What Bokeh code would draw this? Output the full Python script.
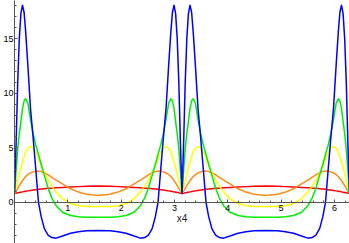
from bokeh.plotting import figure
from bokeh.models import Range1d, FixedTicker
from bokeh.embed import file_html
from bokeh.resources import INLINE

# x positions (radians) over 0 .. 2*pi
x4 = [0, 0.03, 0.06, 0.09, 0.12, 0.15, 0.18, 0.21, 0.25, 0.30, 0.35, 0.40, 0.45, 0.50, 0.56, 0.63, 0.70, 0.78, 0.90, 1.05, 1.20, 1.35, 1.571,
      1.792, 1.942, 2.092, 2.242, 2.362, 2.442, 2.512, 2.582, 2.642, 2.692, 2.742, 2.792, 2.842, 2.892, 2.932, 2.962, 2.992, 3.022, 3.052, 3.082, 3.112, 3.142,
      3.172, 3.202, 3.232, 3.262, 3.292, 3.322, 3.352, 3.392, 3.442, 3.492, 3.542, 3.592, 3.642, 3.702, 3.772, 3.842, 3.922, 4.042, 4.192, 4.342, 4.492, 4.712,
      4.933, 5.083, 5.233, 5.383, 5.503, 5.583, 5.653, 5.723, 5.783, 5.833, 5.883, 5.933, 5.983, 6.033, 6.073, 6.103, 6.133, 6.163, 6.193, 6.223, 6.253, 6.283]

red = [0.82, 0.85, 0.88, 0.91, 0.94, 0.97, 1.0, 1.03, 1.06, 1.1, 1.14, 1.17, 1.2, 1.23, 1.26, 1.29, 1.31, 1.34, 1.37, 1.42, 1.45, 1.48, 1.5,
       1.48, 1.45, 1.42, 1.37, 1.34, 1.31, 1.29, 1.26, 1.23, 1.2, 1.17, 1.14, 1.1, 1.06, 1.03, 1.0, 0.97, 0.94, 0.91, 0.88, 0.85, 0.82,
       0.85, 0.88, 0.91, 0.94, 0.97, 1.0, 1.03, 1.06, 1.1, 1.14, 1.17, 1.2, 1.23, 1.26, 1.29, 1.31, 1.34, 1.37, 1.42, 1.45, 1.48, 1.5,
       1.48, 1.45, 1.42, 1.37, 1.34, 1.31, 1.29, 1.26, 1.23, 1.2, 1.17, 1.14, 1.1, 1.06, 1.03, 1.0, 0.97, 0.94, 0.91, 0.88, 0.85, 0.82]

orange = [0.82, 1.05, 1.3, 1.55, 1.78, 2.0, 2.2, 2.38, 2.55, 2.7, 2.8, 2.86, 2.87, 2.83, 2.72, 2.52, 2.3, 2.05, 1.7, 1.25, 0.95, 0.75, 0.64,
          0.75, 0.95, 1.25, 1.7, 2.05, 2.3, 2.52, 2.72, 2.83, 2.87, 2.86, 2.8, 2.7, 2.55, 2.38, 2.2, 2.0, 1.78, 1.55, 1.3, 1.05, 0.82,
          1.05, 1.3, 1.55, 1.78, 2.0, 2.2, 2.38, 2.55, 2.7, 2.8, 2.86, 2.87, 2.83, 2.72, 2.52, 2.3, 2.05, 1.7, 1.25, 0.95, 0.75, 0.64,
          0.75, 0.95, 1.25, 1.7, 2.05, 2.3, 2.52, 2.72, 2.83, 2.87, 2.86, 2.8, 2.7, 2.55, 2.38, 2.2, 2.0, 1.78, 1.55, 1.3, 1.05, 0.82]

yellow = [0.82, 1.4, 2.0, 2.6, 3.2, 3.7, 4.2, 4.6, 4.95, 5.13, 5.0, 4.6, 4.0, 3.35, 2.7, 2.05, 1.5, 0.95, 0.35, -0.1, -0.3, -0.37, -0.38,
          -0.37, -0.3, -0.1, 0.35, 0.95, 1.5, 2.05, 2.7, 3.35, 4.0, 4.6, 5.0, 5.13, 4.95, 4.6, 4.2, 3.7, 3.2, 2.6, 2.0, 1.4, 0.82,
          1.4, 2.0, 2.6, 3.2, 3.7, 4.2, 4.6, 4.95, 5.13, 5.0, 4.6, 4.0, 3.35, 2.7, 2.05, 1.5, 0.95, 0.35, -0.1, -0.3, -0.37, -0.38,
          -0.37, -0.3, -0.1, 0.35, 0.95, 1.5, 2.05, 2.7, 3.35, 4.0, 4.6, 5.0, 5.13, 4.95, 4.6, 4.2, 3.7, 3.2, 2.6, 2.0, 1.4, 0.82]

green = [0.82, 2.9, 4.9, 6.3, 7.4, 8.6, 9.3, 9.5, 9.1, 7.6, 6.3, 5.25, 4.4, 3.5, 2.5, 1.3, 0.4, -0.3, -0.9, -1.2, -1.32, -1.35, -1.35,
         -1.35, -1.32, -1.2, -0.9, -0.3, 0.4, 1.3, 2.5, 3.5, 4.4, 5.25, 6.3, 7.6, 9.1, 9.5, 9.3, 8.6, 7.4, 6.3, 4.9, 2.9, 0.82,
         2.9, 4.9, 6.3, 7.4, 8.6, 9.3, 9.5, 9.1, 7.6, 6.3, 5.25, 4.4, 3.5, 2.5, 1.3, 0.4, -0.3, -0.9, -1.2, -1.32, -1.35, -1.35,
         -1.35, -1.32, -1.2, -0.9, -0.3, 0.4, 1.3, 2.5, 3.5, 4.4, 5.25, 6.3, 7.6, 9.1, 9.5, 9.3, 8.6, 7.4, 6.3, 4.9, 2.9, 0.82]

blue = [0.82, 5.4, 11.0, 15.0, 17.3, 18.07, 17.4, 15.6, 12.6, 8.6, 5.9, 3.0, 0.0, -1.3, -2.4, -3.0, -3.22, -3.27, -3.08, -2.82, -2.68, -2.6, -2.58,
        -2.6, -2.68, -2.82, -3.08, -3.27, -3.22, -3.0, -2.4, -1.3, 0.0, 3.0, 5.9, 8.6, 12.6, 15.6, 17.4, 18.07, 17.3, 15.0, 11.0, 5.4, 0.82,
        5.4, 11.0, 15.0, 17.3, 18.07, 17.4, 15.6, 12.6, 8.6, 5.9, 3.0, 0.0, -1.3, -2.4, -3.0, -3.22, -3.27, -3.08, -2.82, -2.68, -2.6, -2.58,
        -2.6, -2.68, -2.82, -3.08, -3.27, -3.22, -3.0, -2.4, -1.3, 0.0, 3.0, 5.9, 8.6, 12.6, 15.6, 17.4, 18.07, 17.3, 15.0, 11.0, 5.4, 0.82]

x_ticks = [1, 2, 3, 4, 5, 6]
y_ticks = [0, 5, 10, 15]
x_label = "x4"

series = [(red, "#ff0000"), (orange, "#ff8c1a"), (yellow, "#ffff00"), (green, "#00ee00"), (blue, "#0000ff")]

p = figure(width=349, height=243, output_backend="svg", toolbar_location=None,
           x_range=Range1d(0, 6.2832), y_range=Range1d(-3.76, 18.5))
p.min_border_left = 0
p.min_border_right = 0
p.min_border_top = 0
p.min_border_bottom = 0
p.outline_line_color = None
p.grid.visible = False
p.background_fill_color = "white"
p.border_fill_color = "white"

for ys, c in series:
    p.line(x4, ys, line_color=c, line_width=1.5, line_join="round")

ax_col = "#555555"
font = "Liberation Sans"

xa = p.xaxis[0]
xa.fixed_location = 0
xa.ticker = FixedTicker(ticks=x_ticks, minor_ticks=[round(0.2 * i, 1) for i in range(1, 32) if i % 5 != 0])
xa.axis_line_color = ax_col
xa.major_tick_line_color = ax_col
xa.minor_tick_line_color = ax_col
xa.major_tick_in = 3
xa.major_tick_out = 0
xa.minor_tick_in = 2
xa.minor_tick_out = 0
xa.major_label_text_font = font
xa.major_label_text_font_size = "9px"
xa.major_label_text_color = "black"
xa.major_label_standoff = 3
xa.axis_label = x_label
xa.axis_label_text_font = font
xa.axis_label_text_font_style = "normal"
xa.axis_label_text_font_size = "10px"
xa.axis_label_text_color = "#222222"
xa.axis_label_standoff = -2

ya = p.yaxis[0]
ya.ticker = FixedTicker(ticks=y_ticks, minor_ticks=[i for i in range(-3, 19) if i % 5 != 0])
ya.axis_line_color = ax_col
ya.major_tick_line_color = ax_col
ya.minor_tick_line_color = ax_col
ya.major_tick_in = 3
ya.major_tick_out = 0
ya.minor_tick_in = 2
ya.minor_tick_out = 0
ya.major_label_text_font = font
ya.major_label_text_font_size = "9px"
ya.major_label_text_color = "black"
ya.major_label_standoff = 1

open("out.html", "w").write(file_html(p, INLINE))
